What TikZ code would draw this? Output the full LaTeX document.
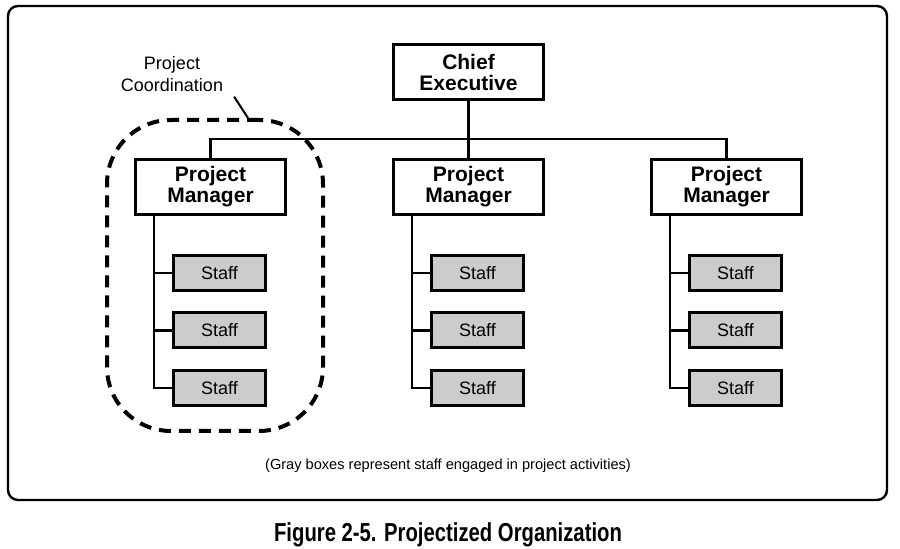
\documentclass[tikz,border=0pt]{standalone}
\usepackage{fontspec}
\setmainfont{Liberation Sans}
\newfontfamily\capfont{Liberation Sans Bold}[FakeStretch=0.78]
\usetikzlibrary{positioning}

\tikzset{
  headbox/.style={draw, line width=1.5pt, minimum width=75pt, minimum height=27.5pt,
    align=center, font=\fontsize{10.5}{10.5}\selectfont\bfseries, inner sep=1pt},
  staffbox/.style={draw, line width=1.5pt, fill=black!20, minimum width=46pt,
    minimum height=17.5pt, font=\fontsize{9}{10}\selectfont, inner sep=1pt},
  link/.style={line width=1.2pt}
}

\begin{document}
\begin{tikzpicture}[x=0.5pt, y=-0.5pt]

  \useasboundingbox (0,0) rectangle (900,549);

  % outer frame
  \draw[line width=1.2pt, rounded corners=5pt] (8,6) rectangle (887,500);

  % chief executive and project managers
  \node[headbox] (ceo) at (468.5,72.5) {Chief\\Executive};
  \node[headbox] (pm1) at (210.5,187) {Project\\Manager};
  \node[headbox] (pm2) at (468.5,187) {Project\\Manager};
  \node[headbox] (pm3) at (726.5,187) {Project\\Manager};

  % links from the top
  \coordinate (bus) at (468.5,139);
  \draw[link] (ceo.south) -- (pm2.north);
  \draw[link] (pm1.north) |- (bus) -| (pm3.north);

  % staff under each manager
  \foreach \n in {1,2,3} {
    \node[staffbox, below=19pt of pm\n.south, xshift=4.5pt] (s\n1) {Staff};
    \node[staffbox, below=9.75pt of s\n1] (s\n2) {Staff};
    \node[staffbox, below=9.75pt of s\n2] (s\n3) {Staff};
    \coordinate (sp\n) at ([xshift=10pt]pm\n.south west);
    \draw[link] (sp\n) |- (s\n3.west);
    \draw[link] (s\n1.west) -- (s\n1.west -| sp\n);
    \draw[link] (s\n2.west) -- (s\n2.west -| sp\n);
  }

  % project coordination region
  \node[draw, line width=2pt, dash pattern=on 6pt off 4pt, rounded corners=32pt,
    minimum width=108pt, minimum height=155.5pt] (coord) at (215,275.5) {};
  \node[align=center, font=\fontsize{9}{11}\selectfont] (lbl) at (172,74)
    {Project\\Coordination};
  \draw[line width=1pt] ([xshift=2pt,yshift=1pt]lbl.south east) -- ([xshift=16.5pt]coord.north);

  % note and caption
  \node[font=\fontsize{7.3}{8}\selectfont] (note) at (448,466)
    {(Gray boxes represent staff engaged in project activities)};
  \node[font=\fontsize{13}{14}\capfont] (cap) at (448,535)
    {Figure 2-5. Projectized Organization};

\end{tikzpicture}
\end{document}
